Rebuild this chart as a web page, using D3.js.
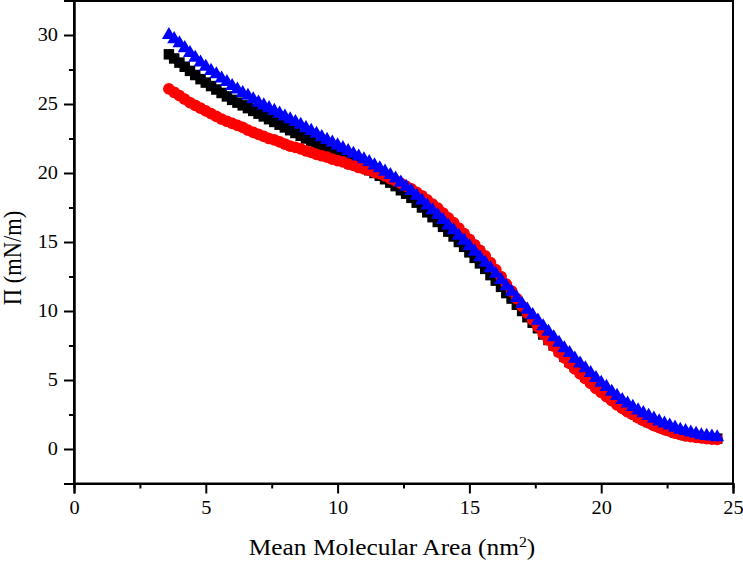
<!DOCTYPE html>
<html><head><meta charset="utf-8">
<script src="https://cdn.jsdelivr.net/npm/d3@7"></script>
<style>body{margin:0;background:#fff}svg{display:block}</style>
</head><body>
<svg id="c" width="743" height="562"></svg>
<script>
const area = [3.6,3.8,4.0,4.2,4.4,4.6,4.8,5.0,5.2,5.4,5.6,5.8,6.0,6.2,6.4,6.6,6.8,7.0,7.2,7.4,7.6,7.8,8.0,8.2,8.4,8.6,8.8,9.0,9.2,9.4,9.6,9.8,10.0,10.2,10.4,10.6,10.8,11.0,11.2,11.4,11.6,11.8,12.0,12.2,12.4,12.6,12.8,13.0,13.2,13.4,13.6,13.8,14.0,14.2,14.4,14.6,14.8,15.0,15.2,15.4,15.6,15.8,16.0,16.2,16.4,16.6,16.8,17.0,17.2,17.4,17.6,17.8,18.0,18.2,18.4,18.6,18.8,19.0,19.2,19.4,19.6,19.8,20.0,20.2,20.4,20.6,20.8,21.0,21.2,21.4,21.6,21.8,22.0,22.2,22.4,22.6,22.8,23.0,23.2,23.4,23.6,23.8,24.0,24.2,24.4];

const blackSeries = [28.6,28.3,28.0,27.7,27.4,27.1,26.8,26.55,26.3,26.05,25.8,25.55,25.3,25.1,24.9,24.7,24.5,24.3,24.1,23.9,23.7,23.5,23.3,23.1,22.9,22.7,22.5,22.3,22.1,21.9,21.7,21.5,21.3,21.1,20.95,20.8,20.6,20.4,20.2,20.0,19.8,19.55,19.3,19.05,18.75,18.5,18.2,17.85,17.5,17.15,16.8,16.45,16.1,15.75,15.4,15.0,14.65,14.25,13.85,13.45,13.05,12.6,12.2,11.75,11.3,10.9,10.45,10.0,9.55,9.15,8.75,8.3,7.9,7.5,7.1,6.7,6.3,5.95,5.6,5.25,4.95,4.6,4.3,4.0,3.7,3.4,3.1,2.85,2.6,2.35,2.15,1.95,1.8,1.65,1.5,1.35,1.2,1.1,1.0,0.95,0.9,0.85,0.8,0.78,0.75];

const redSeries = [26.1,25.85,25.6,25.35,25.1,24.9,24.7,24.5,24.3,24.1,23.9,23.75,23.6,23.45,23.3,23.1,22.95,22.8,22.65,22.5,22.4,22.25,22.1,21.95,21.85,21.75,21.6,21.5,21.35,21.25,21.15,21.0,20.9,20.8,20.65,20.55,20.4,20.3,20.2,20.05,19.95,19.8,19.6,19.45,19.25,19.05,18.85,18.6,18.35,18.05,17.75,17.45,17.1,16.75,16.4,16.0,15.6,15.2,14.8,14.4,14.0,13.5,13.0,12.5,11.95,11.45,10.9,10.35,9.85,9.35,8.85,8.35,7.9,7.45,7.0,6.6,6.2,5.8,5.45,5.1,4.75,4.4,4.1,3.8,3.5,3.2,2.95,2.7,2.5,2.25,2.05,1.9,1.7,1.55,1.4,1.3,1.15,1.05,0.95,0.9,0.85,0.8,0.75,0.72,0.7];

const blueSeries = [30.0,29.7,29.4,29.05,28.7,28.35,28.0,27.7,27.4,27.15,26.85,26.6,26.3,26.05,25.8,25.6,25.35,25.1,24.9,24.7,24.5,24.3,24.1,23.9,23.7,23.5,23.25,23.05,22.85,22.6,22.4,22.2,22.0,21.8,21.6,21.4,21.2,21.0,20.8,20.55,20.35,20.1,19.85,19.6,19.3,19.0,18.7,18.35,18.0,17.65,17.3,16.95,16.6,16.2,15.85,15.45,15.1,14.7,14.3,13.9,13.5,13.1,12.7,12.25,11.8,11.4,10.95,10.5,10.1,9.7,9.3,8.9,8.5,8.1,7.7,7.3,6.95,6.55,6.2,5.85,5.5,5.15,4.8,4.5,4.15,3.85,3.55,3.3,3.05,2.8,2.6,2.4,2.2,2.0,1.85,1.7,1.55,1.4,1.3,1.2,1.1,1.0,0.95,0.9,0.85];

const xTicks = [0,5,10,15,20,25];
const yTicks = [0,5,10,15,20,25,30];
const xMinor = [2.5,7.5,12.5,17.5,22.5];
const yMinor = [-2.5,2.5,7.5,12.5,17.5,22.5,27.5,32.5];

const svg = d3.select("#c");
const L = 74, R = 733, T = 0.5, B = 483.5;
const SX = 1.13; // horizontal text stretch seen in the reference
const x = d3.scaleLinear().domain([0,25]).range([L,R]);
const y = d3.scaleLinear().domain([-2.5,32.5]).range([B,T]);
const font = "'Liberation Serif','Times New Roman',serif";

// frame
svg.append("rect").attr("x",L).attr("y",T+0.5).attr("width",R-L).attr("height",B-T-0.5)
  .attr("fill","none").attr("stroke","#000").attr("stroke-width",2);

// series
const series = [
  {vals: blackSeries, color:"#000000", sym:d3.symbolSquare, size:110},
  {vals: redSeries, color:"#ff0000", sym:d3.symbolCircle, size:108},
  {vals: blueSeries, color:"#0000ff", sym:d3.symbolTriangle, size:84}
];
series.forEach(s=>{
  const path = d3.symbol().type(s.sym).size(s.size)();
  svg.append("g").selectAll("path").data(area.map((a,i)=>[a,s.vals[i]])).join("path")
    .attr("d",path)
    .attr("transform",d=>`translate(${x(d[0])},${y(d[1])})`)
    .attr("fill",s.color);
});

// axes
const gx = svg.append("g").attr("transform",`translate(0,${B})`)
  .call(d3.axisBottom(x).tickValues(xTicks).tickSize(10).tickPadding(8).tickFormat(d3.format("d")));
const gxm = svg.append("g").attr("transform",`translate(0,${B})`)
  .call(d3.axisBottom(x).tickValues(xMinor).tickSize(5).tickFormat(""));
const gy = svg.append("g").attr("transform",`translate(${L},0)`)
  .call(d3.axisLeft(y).tickValues(yTicks).tickSize(10).tickPadding(6).tickFormat(d3.format("d")));
const gym = svg.append("g").attr("transform",`translate(${L},0)`)
  .call(d3.axisLeft(y).tickValues(yMinor).tickSize(5).tickFormat(""));
[gx,gxm,gy,gym].forEach(g=>{
  g.select(".domain").attr("stroke-width",2);
  g.selectAll(".tick line").attr("stroke-width",2);
});
gx.selectAll("text").attr("font-family",font).attr("font-size",18).attr("fill","#000")
  .attr("transform",`scale(${SX},1)`);
gy.selectAll("text").attr("font-family",font).attr("font-size",18).attr("fill","#000")
  .attr("x",-16/SX).attr("transform",`scale(${SX},1)`);

// axis titles
const xl = svg.append("text").attr("font-family",font).attr("font-size",22.5).attr("fill","#000")
  .attr("text-anchor","middle").attr("transform",`translate(392,555) scale(${SX},1)`);
xl.append("tspan").text("Mean Molecular Area (nm");
xl.append("tspan").text("2").attr("font-size",14).attr("dy","-0.6em");
xl.append("tspan").text(")").attr("dy","0.37em");

svg.append("text").attr("font-family",font).attr("font-size",22.5).attr("fill","#000")
  .attr("text-anchor","middle").attr("transform",`translate(21,258) scale(${SX},1) rotate(-90)`)
  .text("Π (mN/m)");
</script>
</body></html>
